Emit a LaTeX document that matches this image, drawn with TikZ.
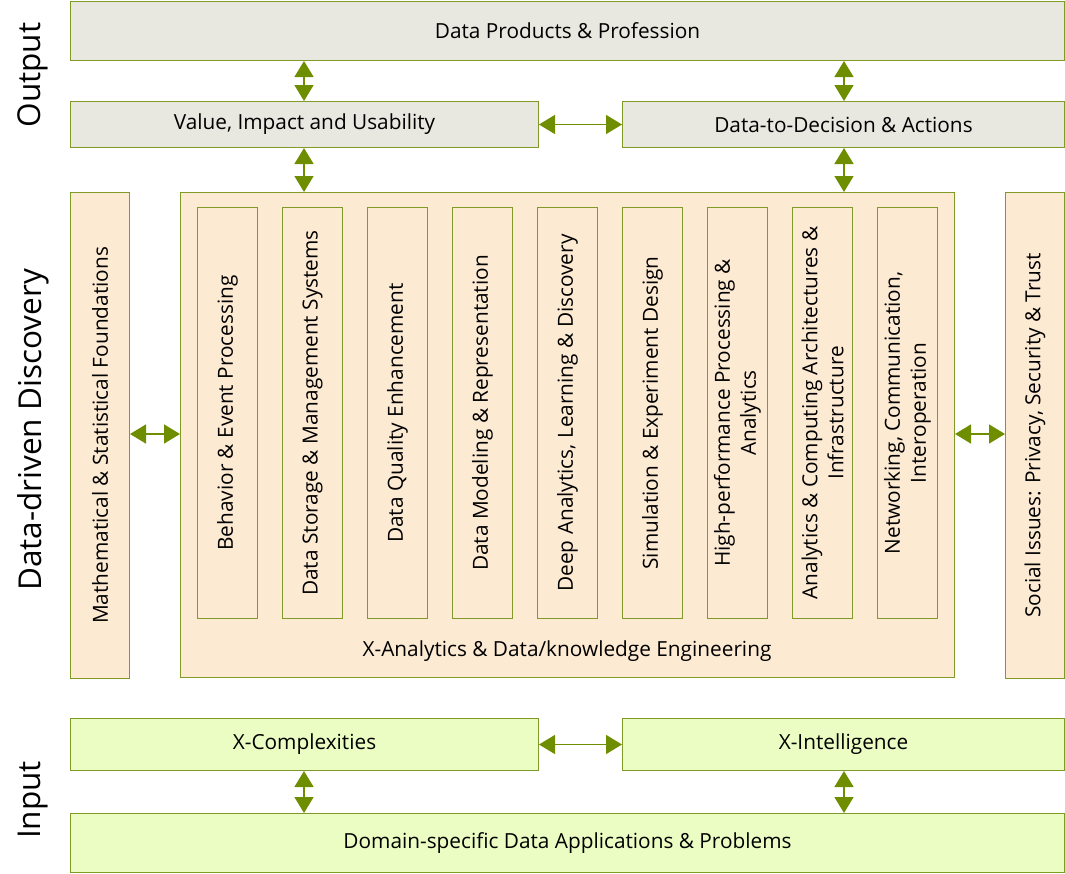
\documentclass[tikz,border=0pt]{standalone}
\usepackage{fontspec}
\setmainfont{Open Sans}
\usetikzlibrary{arrows.meta}
\definecolor{edge}{HTML}{7F9A26}
\definecolor{arr}{HTML}{6E8E00}
\definecolor{grayf}{HTML}{E8E8E0}
\definecolor{peach}{HTML}{FDEAD3}
\definecolor{lime}{HTML}{EBFDC2}
\tikzset{
  box/.style={draw=edge, line width=1pt, inner sep=0pt, font=\fontsize{20.8}{25}\selectfont},
  gbox/.style={box, fill=grayf},
  pbox/.style={box, fill=peach},
  lbox/.style={box, fill=lime},
  dar/.style={draw=arr, line width=1.5pt, {Triangle[width=19pt,length=16pt,fill=arr]}-{Triangle[width=19pt,length=16pt,fill=arr]}},
  side/.style={font=\fontsize{31.5}{36}\selectfont, rotate=90},
  vtext/.style={font=\fontsize{20.8}{26}\selectfont, rotate=90, align=center}
}
\begin{document}
\begin{tikzpicture}[x=1pt,y=-1pt]
\useasboundingbox (0,0) rectangle (1065,873);
\node[gbox, minimum width=994pt, minimum height=59pt, anchor=north west] (prod) at (70,1) {Data Products \& Profession};
\node[gbox, minimum width=468pt, minimum height=46pt, anchor=north west] (value) at (70,101) {Value, Impact and Usability};
\node[gbox, minimum width=442pt, minimum height=46pt, anchor=north west] (dec) at (622,101) {Data-to-Decision \& Actions};
\node[pbox, minimum width=59pt, minimum height=486pt, anchor=north west] (math) at (70,192) {};
\node[vtext] at (math.center) {Mathematical \& Statistical Foundations};
\node[pbox, minimum width=59pt, minimum height=486pt, anchor=north west] (soc) at (1005,192) {};
\node[vtext] at (soc.center) {Social Issues: Privacy, Security \& Trust};
\node[pbox, minimum width=774pt, minimum height=485pt, anchor=north west] (big) at (180,192) {};
\node[font=\fontsize{20.8}{25}\selectfont] (biglab) at (567,651) {X-Analytics \& Data/knowledge Engineering};
\foreach \i/\t in {0/{Behavior \& Event Processing},1/{Data Storage \& Management Systems},2/{Data Quality Enhancement},3/{Data Modeling \& Representation},4/{Deep Analytics, Learning \& Discovery},5/{Simulation \& Experiment Design},6/{High-performance Processing \&\\Analytics},7/{Analytics \& Computing Architectures \&\\Infrastructure},8/{Networking, Communication,\\Interoperation}}{
  \node[pbox, minimum width=60pt, minimum height=411pt, anchor=north west] (in\i) at ({197+85*\i},207) {};
  \node[vtext] at (in\i.center) {\t};
}
\node[lbox, minimum width=468pt, minimum height=52pt, anchor=north west] (cx) at (70,718) {X-Complexities};
\node[lbox, minimum width=442pt, minimum height=52pt, anchor=north west] (xi) at (622,718) {X-Intelligence};
\node[lbox, minimum width=994pt, minimum height=59pt, anchor=north west] (dom) at (70,813) {Domain-specific Data Applications \& Problems};
% side labels
\node[side] (lo) at (33,75) {Output};
\node[side] (ld) at (33,430) {Data-driven Discovery};
\node[side] (li) at (33,800) {Input};
% arrows
\draw[dar] (prod.south -| 304,0) -- (value.north -| 304,0);
\draw[dar] (prod.south -| 844,0) -- (dec.north -| 844,0);
\draw[dar] (value.east) -- (dec.west);
\draw[dar] (value.south -| 304,0) -- (big.north -| 304,0);
\draw[dar] (dec.south -| 844,0) -- (big.north -| 844,0);
\draw[dar] (math.east |- 0,434) -- (big.west |- 0,434);
\draw[dar] (big.east |- 0,434) -- (soc.west |- 0,434);
\draw[dar] (cx.east) -- (xi.west);
\draw[dar] (cx.south -| 304,0) -- (dom.north -| 304,0);
\draw[dar] (xi.south -| 844,0) -- (dom.north -| 844,0);
\end{tikzpicture}
\end{document}
